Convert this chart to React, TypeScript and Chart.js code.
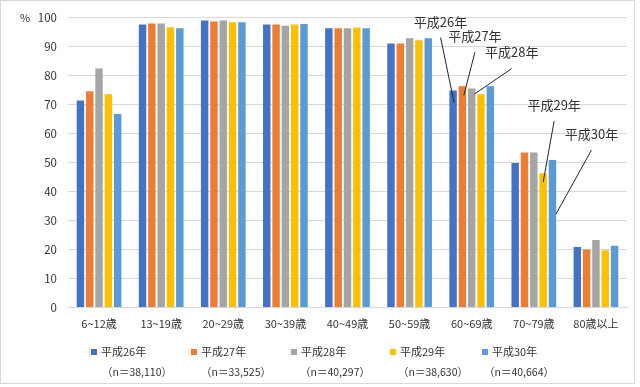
import React, { useEffect, useRef } from "react";
import { Chart, registerables } from "chart.js";

Chart.register(...registerables);

const categories = ["6~12歳", "13~19歳", "20~29歳", "30~39歳", "40~49歳", "50~59歳", "60~69歳", "70~79歳", "80歳以上"];
const seriesNames = ["平成26年", "平成27年", "平成28年", "平成29年", "平成30年"];
const sampleSizes = ["（n＝38,110）", "（n＝33,525）", "（n＝40,297）", "（n＝38,630）", "（n＝40,664）"];
const colors = ["#4472C4", "#ED7D31", "#A5A5A5", "#FFC000", "#5B9BD5"];

const h26 = [71.5, 97.7, 99.1, 97.7, 96.4, 91.2, 74.9, 49.9, 20.9];
const h27 = [74.7, 98.1, 98.8, 97.7, 96.4, 91.2, 76.4, 53.5, 20.0];
const h28 = [82.5, 98.1, 99.1, 97.3, 96.4, 93.0, 75.6, 53.5, 23.3];
const h29 = [73.6, 96.8, 98.5, 97.7, 96.7, 92.3, 73.6, 46.4, 19.8];
const h30 = [66.8, 96.4, 98.5, 97.9, 96.4, 93.0, 76.4, 50.9, 21.3];
const seriesValues = [h26, h27, h28, h29, h30];

const yTicks = [0, 10, 20, 30, 40, 50, 60, 70, 80, 90, 100];

// callouts: series index, category index, label offset from bar top-centre, line end offset
const callouts = [
  { s: 0, c: 6, lx: -12.5, ly: -69, ex: 1, ey: 12 },
  { s: 1, c: 6, lx: 12.5, ly: -50, ex: 1.5, ey: 9 },
  { s: 2, c: 6, lx: 40, ly: -36, ex: 2.7, ey: 5.5 },
  { s: 3, c: 7, lx: 11, ly: -68, ex: 0, ey: 9 },
  { s: 4, c: 7, lx: 39, ly: -26, ex: 3.5, ey: 54 },
];

const CJK = "'Noto Sans CJK JP', 'Noto Sans', sans-serif";
const TEXT = "#333333";
const GRID = "#D9D9D9";

const legendMarkerX = [91, 191, 291, 390, 482];
const legendNX = [102, 201, 300, 398, 484];

const decorPlugin = {
  id: "decor",
  beforeDraw(chart: any) {
    const ctx = chart.ctx;
    ctx.save();
    ctx.fillStyle = "#fff";
    ctx.fillRect(0, 0, chart.width, chart.height);
    ctx.restore();
  },
  afterDraw(chart: any) {
    const ctx = chart.ctx;
    ctx.save();
    // outer border
    ctx.strokeStyle = GRID;
    ctx.lineWidth = 1;
    ctx.strokeRect(0.5, 0.5, 634, 383);

    // % label
    ctx.fillStyle = TEXT;
    ctx.font = `11px ${CJK}`;
    ctx.textAlign = "center";
    ctx.textBaseline = "middle";
    ctx.fillText("%", 25, 18);

    // callouts
    ctx.font = `13px ${CJK}`;
    callouts.forEach((a) => {
      const bar = chart.getDatasetMeta(a.s).data[a.c];
      const bx = bar.x;
      const by = bar.y;
      const lx = bx + a.lx;
      const ly = by + a.ly;
      ctx.strokeStyle = "#262626";
      ctx.lineWidth = 1;
      ctx.beginPath();
      ctx.moveTo(lx, ly + 16);
      ctx.lineTo(bx + a.ex, by + a.ey);
      ctx.stroke();
      ctx.fillStyle = TEXT;
      ctx.textAlign = "center";
      ctx.textBaseline = "middle";
      ctx.fillText(seriesNames[a.s], lx, ly);
    });

    // legend
    ctx.textAlign = "left";
    ctx.textBaseline = "middle";
    seriesNames.forEach((name, i) => {
      const mx = legendMarkerX[i];
      ctx.fillStyle = colors[i];
      ctx.fillRect(mx, 349, 6, 6);
      ctx.fillStyle = TEXT;
      ctx.font = `11px ${CJK}`;
      ctx.fillText(name, mx + 10, 352);
      ctx.font = `10.5px ${CJK}`;
      ctx.fillText(sampleSizes[i], legendNX[i], 372.5);
    });
    ctx.restore();
  },
};

export default function App() {
  const ref = useRef<HTMLCanvasElement | null>(null);

  useEffect(() => {
    document.body.style.margin = "0";
    const canvas = ref.current;
    if (!canvas) return;
    const chart = new Chart(canvas, {
      type: "bar",
      data: {
        labels: categories,
        datasets: seriesValues.map((vals, i) => ({
          label: seriesNames[i],
          data: vals,
          backgroundColor: colors[i],
          borderWidth: 0,
          barPercentage: 0.8,
          categoryPercentage: 0.75,
        })),
      },
      options: {
        responsive: false,
        animation: false,
        devicePixelRatio: 1,
        layout: { padding: { top: 14, left: 0, right: 13, bottom: 0 } },
        plugins: {
          legend: { display: false },
          tooltip: { enabled: false },
        },
        scales: {
          x: {
            grid: { display: false, drawTicks: false },
            border: { display: true, color: GRID, width: 1 },
            ticks: {
              color: TEXT,
              font: { family: CJK, size: 11 },
              padding: 10,
              maxRotation: 0,
              autoSkip: false,
            },
            afterFit: (s: any) => {
              s.height = 79.5;
            },
          },
          y: {
            min: 0,
            max: 100,
            afterBuildTicks: (s: any) => {
              s.ticks = yTicks.map((v) => ({ value: v }));
            },
            grid: { color: GRID, lineWidth: 1, drawTicks: false },
            border: { display: false },
            ticks: {
              color: TEXT,
              font: { family: CJK, size: 11.5 },
              padding: 11,
            },
            afterFit: (s: any) => {
              s.width = 68;
            },
          },
        },
      },
      plugins: [decorPlugin],
    });
    return () => chart.destroy();
  }, []);

  return (
    <div style={{ width: 640, height: 387 }}>
      <canvas ref={ref} width={640} height={387} style={{ width: 640, height: 387, display: "block" }} />
    </div>
  );
}
